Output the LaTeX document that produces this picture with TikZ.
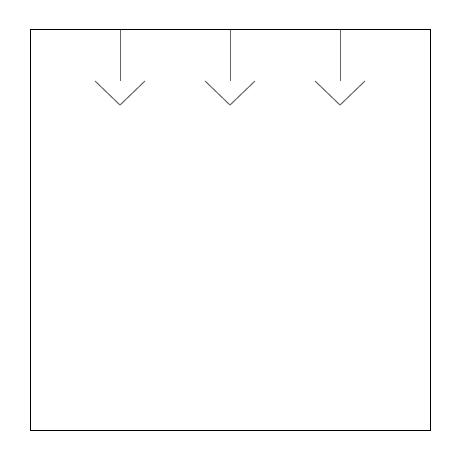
\documentclass[tikz,border=0pt]{standalone}
\begin{document}
\begin{tikzpicture}[x=0.75pt,y=-0.75pt,
  frame/.style={draw=black,line width=0.75pt},
  stem/.style={draw=black!60,line width=0.75pt},
  vhead/.style={draw=black!60,line width=0.75pt}]
\useasboundingbox (0,0) rectangle (460,460);
\draw[frame] (30,30) rectangle (430,430);
\foreach \i/\x in {a/120,b/230,c/340}{
  \coordinate (top\i) at (\x,30);
  \coordinate (end\i) at (\x,81);
  \draw[stem] (top\i) -- (end\i);
  \draw[vhead] (\x-25,81) -- (\x,105) -- (\x+25,81);
}
\end{tikzpicture}
\end{document}
